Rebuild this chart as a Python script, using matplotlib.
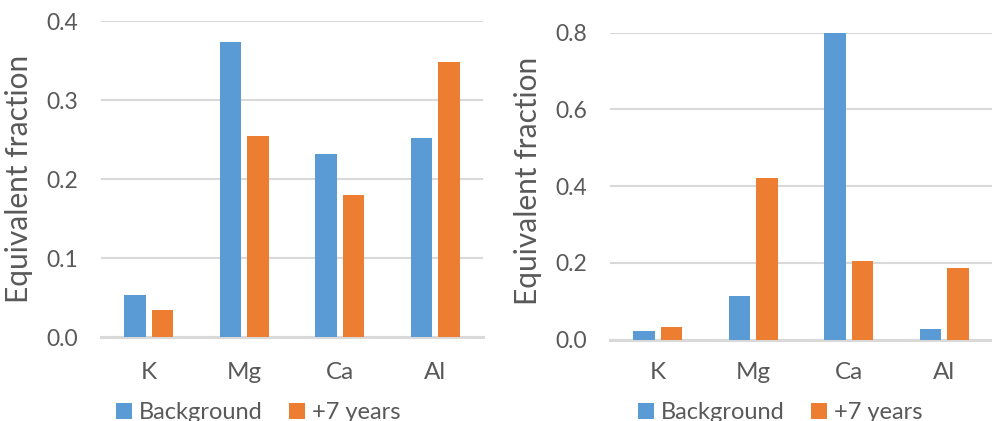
import matplotlib
matplotlib.use("Agg")
import matplotlib.pyplot as plt
import numpy as np

# Exchangeable cation equivalent fractions
cations = ["K", "Mg", "Ca", "Al"]
series_names = ["Background", "+7 years"]

left_background = [0.054, 0.373, 0.232, 0.252]
left_plus7 = [0.035, 0.254, 0.180, 0.348]

right_background = [0.022, 0.114, 0.801, 0.028]
right_plus7 = [0.033, 0.421, 0.204, 0.188]

left_ticks = [0.0, 0.1, 0.2, 0.3, 0.4]
right_ticks = [0.0, 0.2, 0.4, 0.6, 0.8]

BLUE = "#5B9BD5"
ORANGE = "#ED7D31"
TEXT = "#595959"
GRID = "#D9D9D9"

plt.rcParams["font.family"] = ["Lato", "DejaVu Sans"]

fig = plt.figure(figsize=(9.92, 4.21), dpi=100)

W, H = 992.0, 421.0


def make_axes(x0, x1, ytop, ybot):
    return fig.add_axes([x0 / W, 1 - ybot / H, (x1 - x0) / W, (ybot - ytop) / H])


def draw_panel(ax, bg, p7, ticks, label_y, xpad):
    x = np.arange(len(cations))
    width = 0.225
    off = 0.144
    ax.bar(x - off, bg, width, color=BLUE, label=series_names[0], zorder=3)
    ax.bar(x + off, p7, width, color=ORANGE, label=series_names[1], zorder=3)
    ax.set_xlim(-0.5, len(cations) - 0.5)
    ax.set_ylim(0, ticks[-1])
    ax.set_yticks(ticks)
    ax.set_yticklabels([f"{t:.1f}" for t in ticks])
    ax.set_xticks(x)
    ax.set_xticklabels(cations)
    for s in ax.spines.values():
        s.set_visible(False)
    ax.grid(axis="y", color=GRID, linewidth=1.5, zorder=0)
    ax.set_axisbelow(True)
    ax.tick_params(axis="both", length=0, colors=TEXT)
    ax.tick_params(axis="y", pad=16.5, labelsize=16.5)
    ax.tick_params(axis="x", pad=xpad, labelsize=17.5)
    ax.set_ylabel("Equivalent fraction", fontsize=21.5, color=TEXT)
    ax.yaxis.set_label_coords(-0.178, label_y)
    ax.axhline(0, color=GRID, linewidth=2.2, zorder=1, clip_on=False)
    ax.set_facecolor("none")


ax1 = make_axes(101, 483, 21, 337.3)
draw_panel(ax1, left_background, left_plus7, left_ticks, 0.5, 17.5)

ax2 = make_axes(610, 992, 32.7, 339.7)
draw_panel(ax2, right_background, right_plus7, right_ticks, 0.516, 16)

for ax, xa in ((ax1, 116), (ax2, 638)):
    leg = ax.legend(
        loc="upper left",
        bbox_to_anchor=(xa / W, 1 - 402 / H),
        bbox_transform=fig.transFigure,
        ncol=2,
        frameon=False,
        fontsize=17,
        handlelength=0.68,
        handleheight=0.68,
        handletextpad=0.3,
        columnspacing=1.1,
        borderpad=0,
        borderaxespad=0,
    )
    for t in leg.get_texts():
        t.set_color(TEXT)

fig.savefig("out.png", dpi=100)
